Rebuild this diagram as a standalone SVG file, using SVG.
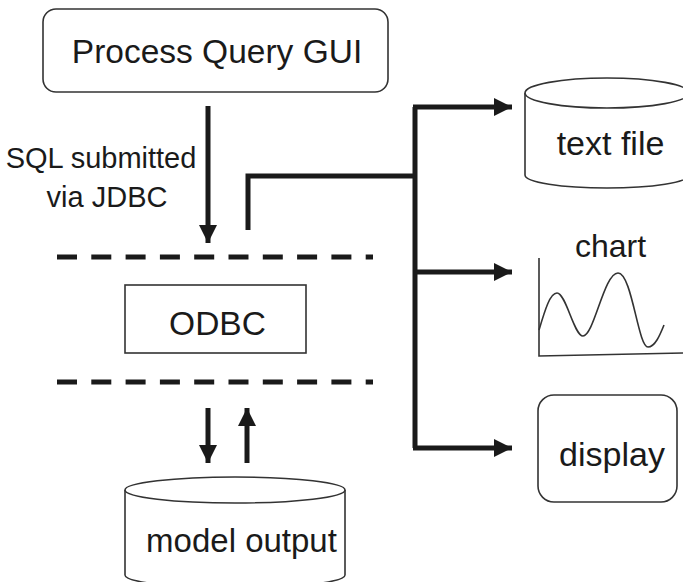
<svg xmlns="http://www.w3.org/2000/svg" width="683" height="582" viewBox="0 0 683 582">
  <defs>
    <marker id="head" viewBox="0 0 10 10" refX="10" refY="5" markerWidth="3.6" markerHeight="3.6" markerUnits="strokeWidth" orient="auto">
      <path d="M0,0 L10,5 L0,10 Z" fill="#1a1a1a"/>
    </marker>
    <style>
      text { font-family: "Liberation Sans", Arial, sans-serif; fill: #1a1a1a; }
      .box { fill: #fff; stroke: #333; stroke-width: 1.6; }
      .thin { fill: none; stroke: #333; stroke-width: 1.6; }
      .flow { fill: none; stroke: #1a1a1a; stroke-width: 5; }
      .dash { fill: none; stroke: #1a1a1a; stroke-width: 5; stroke-dasharray: 20 14.3; }
    </style>
  </defs>
  <rect width="683" height="582" fill="#fff"/>

  <!-- layer boundaries around the ODBC layer -->
  <g id="boundaries">
    <line class="dash" x1="57" y1="257" x2="373" y2="257"/>
    <line class="dash" x1="57" y1="382" x2="373" y2="382"/>
  </g>

  <g id="gui">
    <rect class="box" x="43" y="9" width="345" height="83" rx="13"/>
    <text x="217" y="63" font-size="33.5" text-anchor="middle">Process Query GUI</text>
  </g>

  <g id="sql-label">
    <text x="101" y="168" font-size="29" text-anchor="middle">SQL submitted</text>
    <text x="107" y="207" font-size="29" text-anchor="middle">via JDBC</text>
  </g>

  <g id="odbc">
    <rect class="box" x="125" y="285" width="181" height="68"/>
    <text x="217.5" y="335" font-size="33.5" text-anchor="middle">ODBC</text>
  </g>

  <g id="model-output">
    <path class="box" d="M125,490 V575 A110,13 0 0 0 345,575 V490"/>
    <ellipse class="box" cx="235" cy="490" rx="110" ry="13"/>
    <text x="241.5" y="552" font-size="33" text-anchor="middle">model output</text>
  </g>

  <g id="text-file">
    <path class="box" d="M525,93 V175 A82,13 0 0 0 689,175 V93"/>
    <ellipse class="box" cx="607" cy="93" rx="82" ry="15"/>
    <text x="610.5" y="155" font-size="34" text-anchor="middle">text file</text>
  </g>

  <g id="chart">
    <text x="610.5" y="257" font-size="32" text-anchor="middle">chart</text>
    <path class="thin" d="M539,258 V356 L683,353"/>
    <path class="thin" d="M539,330 C545,310 550,293 557,293 C566,293 574,336 583,336 C594,336 604,273 618,273 C632,273 638,347 648,347 C655,347 660,335 664,325"/>
  </g>

  <g id="display">
    <rect class="box" x="538" y="395" width="139" height="107" rx="16"/>
    <text x="612" y="466" font-size="34" text-anchor="middle">display</text>
  </g>

  <g id="connectors">
    <!-- query down into the ODBC layer -->
    <line class="flow" x1="208" y1="106" x2="208" y2="243" marker-end="url(#head)"/>
    <!-- results fanned out to the outputs -->
    <path class="flow" d="M248,230 V176 H415"/>
    <path class="flow" d="M415,448 V107"/>
    <line class="flow" x1="413" y1="107" x2="512" y2="107" marker-end="url(#head)"/>
    <line class="flow" x1="413" y1="272" x2="512" y2="272" marker-end="url(#head)"/>
    <line class="flow" x1="413" y1="448" x2="512" y2="448" marker-end="url(#head)"/>
    <!-- traffic to and from the model output store -->
    <line class="flow" x1="208" y1="408" x2="208" y2="463" marker-end="url(#head)"/>
    <line class="flow" x1="247" y1="463" x2="247" y2="408" marker-end="url(#head)"/>
  </g>
</svg>
